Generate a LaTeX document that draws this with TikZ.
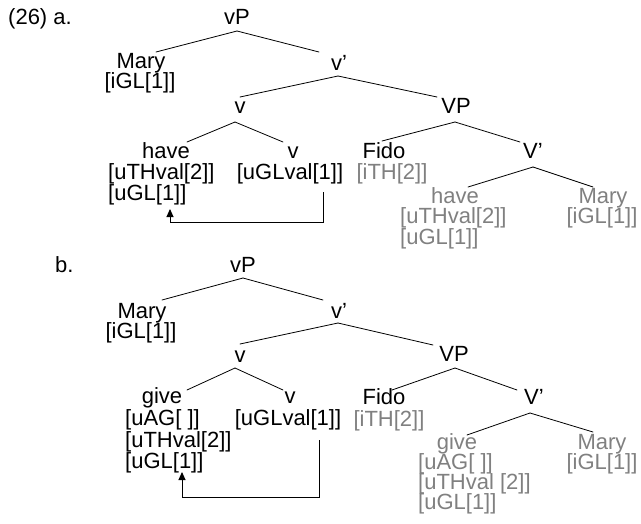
\documentclass[tikz,border=0pt]{standalone}
\usepackage{fontspec}
\setmainfont{Liberation Sans}
\usetikzlibrary{arrows.meta}
\definecolor{gtxt}{RGB}{128,128,128}
\tikzset{
  lab/.style={anchor=base, inner sep=0pt, font=\fontsize{22}{26}\selectfont},
  feat/.style={lab, anchor=base west},
  gtext/.style={text=gtxt},
  conn/.style={line width=0.8pt, line cap=round},
  link/.style={line width=0.9pt, -{Triangle[length=8pt,width=7pt]}}
}
\begin{document}
\begin{tikzpicture}[x=1pt,y=-1pt]
\useasboundingbox (0,0) rectangle (641,523);
% ---------- tree a ----------
\node[feat] (alab) at (8,24) {(26) a.};
\node[lab] (avP) at (237,24) {vP};
\node[lab] (aMary) at (141,68) {Mary};
\node[lab] (aMaryF) at (140,88) {[iGL[1]]};
\node[lab] (avbar) at (339,70) {v’};
\node[lab] (av) at (240,113) {v};
\node[lab] (aVP) at (456,113) {VP};
\node[lab] (ahave) at (166,158) {have};
\node[feat] (ahaveF1) at (108,179) {[uTHval[2]]};
\node[feat] (ahaveF2) at (108,200) {[uGL[1]]};
\node[lab] (av2) at (293,158) {v};
\node[lab] (av2F) at (290,179) {[uGLval[1]]};
\node[lab] (aFido) at (384,158) {Fido};
\node[lab,gtext] (aFidoF) at (392,179) {[iTH[2]]};
\node[lab] (aVbar) at (533,158) {V’};
\node[lab,gtext] (ahave2) at (455,203) {have};
\node[feat,gtext] (ahave2F1) at (400,223.5) {[uTHval[2]]};
\node[feat,gtext] (ahave2F2) at (400,244) {[uGL[1]]};
\node[lab,gtext] (aMary2) at (603,203) {Mary};
\node[lab,gtext] (aMary2F) at (602,223.5) {[iGL[1]]};

\draw[conn] ([yshift=-7pt]avP.base) -- ([xshift=15pt,yshift=16pt]aMary.base);
\draw[conn] ([yshift=-7pt]avP.base) -- ([xshift=-20pt,yshift=18pt]avbar.base);
\draw[conn] ([xshift=-1pt,yshift=-6pt]avbar.base) -- ([yshift=16pt]av.base);
\draw[conn] ([xshift=-1pt,yshift=-6pt]avbar.base) -- ([xshift=-19pt,yshift=16pt]aVP.base);
\draw[conn] ([xshift=-5pt,yshift=-9pt]av.base) -- ([xshift=21pt,yshift=16pt]ahave.base);
\draw[conn] ([xshift=-5pt,yshift=-9pt]av.base) -- ([xshift=-10pt,yshift=16pt]av2.base);
\draw[conn] ([xshift=-1pt,yshift=-9pt]aVP.base) -- ([xshift=-2pt,yshift=17pt]aFido.base);
\draw[conn] ([xshift=-1pt,yshift=-9pt]aVP.base) -- ([xshift=-13pt,yshift=16pt]aVbar.base);
\draw[conn] ([yshift=-9pt]aVbar.base) -- ([xshift=13pt,yshift=16pt]ahave2.base);
\draw[conn] ([yshift=-9pt]aVbar.base) -- ([xshift=-10pt,yshift=16pt]aMary2.base);
\draw[link] ([xshift=33pt,yshift=-13pt]av2F.base) -- ++(0,30) -| ([xshift=62pt,yshift=-9pt]ahaveF2.base west);

% ---------- tree b ----------
\node[feat] (blab) at (55,272) {b.};
\node[lab] (bvP) at (243,272) {vP};
\node[lab] (bMary) at (142,318) {Mary};
\node[lab] (bMaryF) at (141,338) {[iGL[1]]};
\node[lab] (bvbar) at (339,318) {v’};
\node[lab] (bv) at (240,362) {v};
\node[lab] (bVP) at (454,361) {VP};
\node[lab] (bgive) at (162,403) {give};
\node[feat] (bgiveF1) at (125,425) {[uAG[ ]]};
\node[feat] (bgiveF2) at (125,447) {[uTHval[2]]};
\node[feat] (bgiveF3) at (125,468) {[uGL[1]]};
\node[lab] (bv2) at (290,403) {v};
\node[lab] (bv2F) at (288,425) {[uGLval[1]]};
\node[lab] (bFido) at (384,404) {Fido};
\node[lab,gtext] (bFidoF) at (389,426) {[iTH[2]]};
\node[lab] (bVbar) at (534,404) {V’};
\node[lab,gtext] (bgive2) at (457,449) {give};
\node[feat,gtext] (bgive2F1) at (418,469) {[uAG[ ]]};
\node[feat,gtext] (bgive2F2) at (418,489) {[uTHval [2]]};
\node[feat,gtext] (bgive2F3) at (418,509) {[uGL[1]]};
\node[lab,gtext] (bMary2) at (602,449) {Mary};
\node[lab,gtext] (bMary2F) at (602,469) {[iGL[1]]};

\draw[conn] ([yshift=-6pt]bvP.base) -- ([xshift=20pt,yshift=18pt]bMary.base);
\draw[conn] ([yshift=-6pt]bvP.base) -- ([xshift=-16pt,yshift=18pt]bvbar.base);
\draw[conn] ([xshift=-1pt,yshift=-5pt]bvbar.base) -- ([yshift=18pt]bv.base);
\draw[conn] ([xshift=-1pt,yshift=-5pt]bvbar.base) -- ([xshift=-21pt,yshift=16pt]bVP.base);
\draw[conn] ([xshift=-5pt,yshift=-6pt]bv.base) -- ([xshift=25pt,yshift=13pt]bgive.base);
\draw[conn] ([xshift=-5pt,yshift=-6pt]bv.base) -- ([xshift=-7pt,yshift=13pt]bv2.base);
\draw[conn] ([xshift=1pt,yshift=-7pt]bVP.base) -- ([xshift=8pt,yshift=14pt]bFido.base);
\draw[conn] ([xshift=1pt,yshift=-7pt]bVP.base) -- ([xshift=-17pt,yshift=14pt]bVbar.base);
\draw[conn] ([xshift=-4pt,yshift=-9pt]bVbar.base) -- ([xshift=10pt,yshift=14pt]bgive2.base);
\draw[conn] ([xshift=-4pt,yshift=-9pt]bVbar.base) -- ([xshift=-9pt,yshift=17pt]bMary2.base);
\draw[link] ([xshift=31pt,yshift=-15pt]bv2F.base) -- ++(0,57) -| ([xshift=57pt,yshift=-4pt]bgiveF3.base west);
\end{tikzpicture}
\end{document}
